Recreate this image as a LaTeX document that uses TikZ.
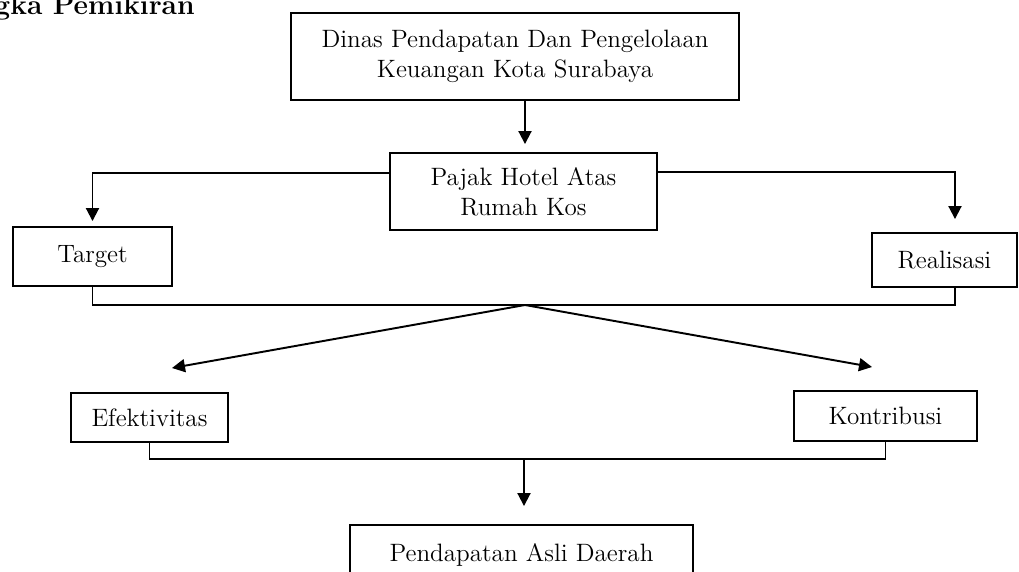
\documentclass[tikz,border=0pt]{standalone}
\usetikzlibrary{calc}
\usetikzlibrary{arrows.meta}

\begin{document}
\begin{tikzpicture}[x=0.02cm, y=-0.02cm,
  box/.style={draw, line width=1.1pt, inner sep=0pt, align=center, font=\fontsize{14.3}{17}\selectfont},
  link/.style={line width=1.1pt},
  arr/.style={line width=1.1pt, -{Triangle[length=0.26cm, width=0.26cm]}}]
\useasboundingbox (0,0) rectangle (1019,572);

\node[anchor=base east, inner sep=0pt, font=\fontsize{16}{18}\selectfont\bfseries] (judul) at (195,14) {gka Pemikiran};

\node[box, minimum width=8.96cm, minimum height=1.74cm] (dinas) at (515,56.5) {Dinas Pendapatan Dan Pengelolaan\\Keuangan Kota Surabaya};
\node[box, minimum width=5.34cm, minimum height=1.54cm] (pajak) at (523.5,191.5) {Pajak Hotel Atas\\Rumah Kos};
\node[box, minimum width=3.18cm, minimum height=1.18cm] (target) at (92.5,256.5) {Target};
\node[box, minimum width=2.9cm, minimum height=1.08cm] (realisasi) at (944.5,260) {Realisasi};
\node[box, minimum width=3.14cm, minimum height=0.98cm] (efektivitas) at (149.5,417.5) {Efektivitas};
\node[box, minimum width=3.66cm, minimum height=1cm] (kontribusi) at (885.5,416) {Kontribusi};
\node[box, minimum width=6.86cm, minimum height=1.2cm] (pad) at (521.5,555) {Pendapatan Asli Daerah};

\coordinate (kiri) at (93,173);
\coordinate (kanan) at (955,172);
\coordinate (tengah) at (525,305);
\coordinate (ujungkiri) at (172,368);
\coordinate (ujungkanan) at (872,367);
\coordinate (bawah) at (524,459);

\draw[arr, shorten >=0.16cm] (dinas.south -| tengah) -- (tengah |- pajak.north);
\draw[arr, shorten >=0.1cm] (pajak.west |- kiri) -| (target.north);
\draw[arr, shorten >=0.26cm] (pajak.east |- kanan) -| ([xshift=0.21cm]realisasi.north);

\draw[link] (target.south) |- (tengah) -| ([xshift=0.21cm]realisasi.south);
\draw[arr] (tengah) -- (ujungkiri);
\draw[arr] (tengah) -- (ujungkanan);

\draw[link] (efektivitas.south) |- (bawah) -| (kontribusi.south);
\draw[arr, shorten >=0.36cm] (bawah) -- (bawah |- pad.north);

\end{tikzpicture}
\end{document}
